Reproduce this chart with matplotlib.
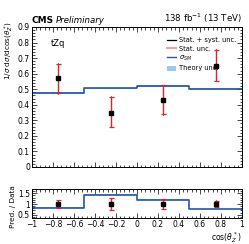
import matplotlib
matplotlib.use("Agg")
import matplotlib.pyplot as plt
import numpy as np
from matplotlib.ticker import MultipleLocator, AutoMinorLocator
from matplotlib.lines import Line2D
from matplotlib.patches import Patch

bin_edges = [-1.0, -0.5, 0.0, 0.5, 1.0]
bin_centers = [-0.75, -0.25, 0.25, 0.75]
data = [0.57, 0.35, 0.43, 0.65]
tot_lo = [0.10, 0.095, 0.095, 0.10]
tot_hi = [0.10, 0.105, 0.10, 0.11]
stat_lo = [0.095, 0.09, 0.09, 0.095]
stat_hi = [0.095, 0.10, 0.095, 0.105]
pred = [0.475, 0.505, 0.52, 0.50]
theo_unc = [0.008, 0.006, 0.006, 0.006]

ratio = [p / d for p, d in zip(pred, data)]
r_tot_lo = [l / d for l, d in zip(tot_lo, data)]
r_tot_hi = [h / d for h, d in zip(tot_hi, data)]
r_stat_lo = [l / d for l, d in zip(stat_lo, data)]
r_stat_hi = [h / d for h, d in zip(stat_hi, data)]
r_theo = [u / d for u, d in zip(theo_unc, data)]

plt.rcParams['font.family'] = ['DejaVu Sans']
fs = 5.5
fig = plt.figure(figsize=(2.49, 2.44), dpi=100)
ax = fig.add_axes([0.1285, 0.3156, 0.843, 0.5738])
rax = fig.add_axes([0.1285, 0.1066, 0.843, 0.1188])

blue = "#2255b0"
lblue = "#9ac8f0"
red = "#e0202a"

def step(a, vals, unc, lw=1.2):
    x = np.repeat(bin_edges, 2)[1:-1]
    y = np.repeat(vals, 2)
    u = np.repeat(unc, 2)
    a.fill_between(x, y - u, y + u, color=lblue, lw=0)
    a.plot(x, y, color=blue, lw=lw)

step(ax, np.array(pred), np.array(theo_unc))
ax.errorbar(bin_centers, data, yerr=[tot_lo, tot_hi], fmt='none', ecolor='black', elinewidth=0.8)
ax.errorbar(bin_centers, data, yerr=[stat_lo, stat_hi], fmt='none', ecolor=red, elinewidth=0.9, capsize=1.8, capthick=0.9)
ax.plot(bin_centers, data, 's', color='black', ms=2.5)

step(rax, np.array(ratio), np.array(r_theo))
ones = [1, 1, 1, 1]
rax.errorbar(bin_centers, ones, yerr=[r_tot_lo, r_tot_hi], fmt='none', ecolor='black', elinewidth=0.8)
rax.errorbar(bin_centers, ones, yerr=[r_stat_lo, r_stat_hi], fmt='none', ecolor=red, elinewidth=0.9, capsize=1.8, capthick=0.9)
rax.plot(bin_centers, ones, 's', color='black', ms=2.5)

for a in (ax, rax):
    a.set_xlim(-1, 1)
    a.xaxis.set_major_locator(MultipleLocator(0.2))
    a.xaxis.set_minor_locator(AutoMinorLocator(5))
    a.tick_params(which='both', direction='in', top=True, right=True, labelsize=fs, pad=1.5, width=0.5)
    a.tick_params(which='major', length=3.5)
    a.tick_params(which='minor', length=1.8)
    for s in a.spines.values():
        s.set_linewidth(0.7)

ax.set_ylim(0, 0.9)
ax.set_yticks([0, 0.1, 0.2, 0.3, 0.4, 0.5, 0.6, 0.7, 0.8, 0.9])
ax.set_yticklabels(["0", "0.1", "0.2", "0.3", "0.4", "0.5", "0.6", "0.7", "0.8", "0.9"])
ax.yaxis.set_minor_locator(AutoMinorLocator(5))
ax.tick_params(labelbottom=False)

rax.set_ylim(0.35, 1.7)
rax.set_yticks([0.5, 1.0, 1.5])
rax.set_yticklabels(["0.5", "1", "1.5"])
rax.yaxis.set_minor_locator(MultipleLocator(0.1))
rax.set_xticks([-1, -0.8, -0.6, -0.4, -0.2, 0, 0.2, 0.4, 0.6, 0.8, 1])
rax.set_xticklabels(["−1", "−0.8", "−0.6", "−0.4", "−0.2", "0", "0.2", "0.4", "0.6", "0.8", "1"])

ax.set_ylabel(r"1/$\sigma$ d$\sigma$/dcos($\theta_Z^*$)", fontsize=5.2, loc='top', labelpad=2)
rax.set_ylabel("Pred. / Data", fontsize=5.2, labelpad=2)
rax.yaxis.set_label_coords(-0.075, 0.4)
ax.yaxis.set_label_coords(-0.075, 1.04)
rax.set_xlabel(r"cos($\theta_Z^*$)", fontsize=fs, loc='right', labelpad=1)

ax.text(0.0, 1.015, "CMS", transform=ax.transAxes, fontsize=6.5, fontweight='bold', ha='left', va='bottom')
ax.text(0.115, 1.015, "Preliminary", transform=ax.transAxes, fontsize=6.2, style='italic', ha='left', va='bottom')
ax.text(1.0, 1.015, r"138 fb$^{-1}$ (13 TeV)", transform=ax.transAxes, fontsize=6.2, ha='right', va='bottom')
ax.text(0.09, 0.88, "tZq", transform=ax.transAxes, fontsize=6, ha='left', va='center')

handles = [Line2D([], [], color='black', lw=0.9),
           Line2D([], [], color='#f4a0a0', lw=1.5),
           Line2D([], [], color=blue, lw=1.0),
           Patch(facecolor=lblue, edgecolor='none')]
labels = ["Stat. + syst. unc.", "Stat. unc.", r"$\sigma_{SM}$", "Theory unc."]
ax.legend(handles, labels, loc='upper right', bbox_to_anchor=(0.995, 0.96), fontsize=4.8, frameon=False,
          handlelength=1.3, handleheight=0.8, labelspacing=0.35, borderpad=0.2, handletextpad=0.5)

fig.savefig("out.png", dpi=100)
